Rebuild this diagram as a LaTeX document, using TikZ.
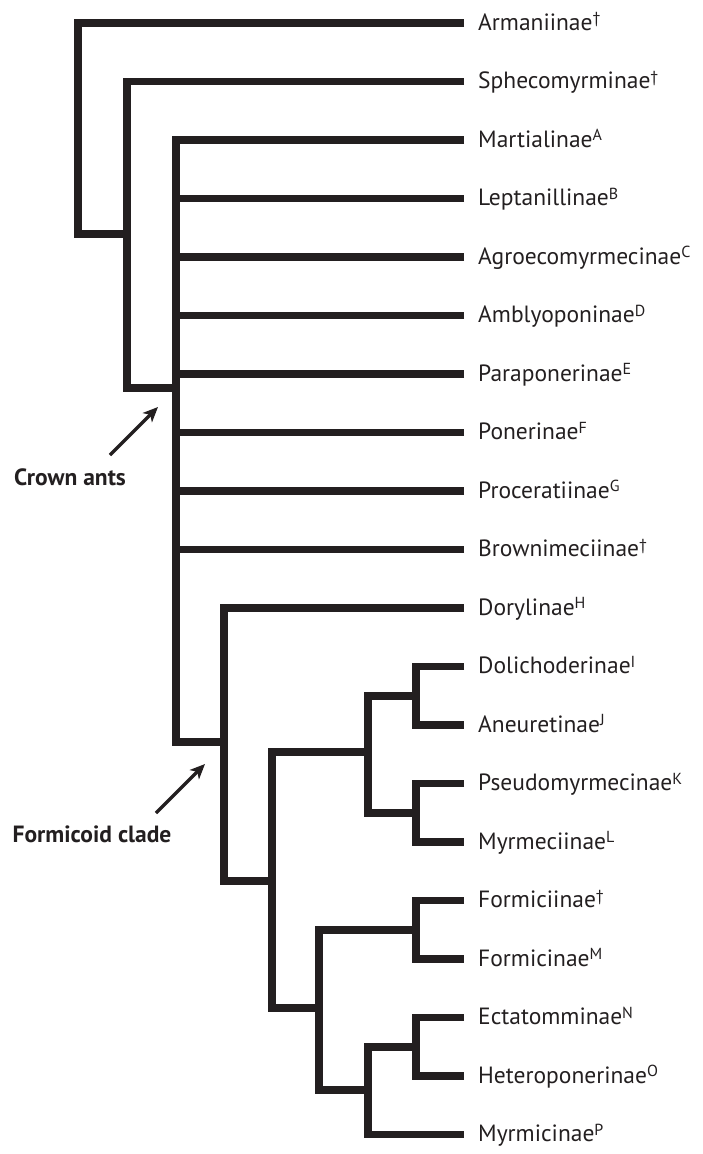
\documentclass[tikz,border=0pt]{standalone}
\usepackage{fontspec}
\setmainfont{PT Sans}
\usetikzlibrary{arrows.meta}
\definecolor{inkblack}{RGB}{35,31,32}
\newcommand{\supmark}[1]{\raisebox{6.5pt}{\fontsize{16}{18}\selectfont #1}}
\tikzset{
  branch/.style={draw=inkblack, line width=7.5pt, line join=miter},
  taxon/.style={anchor=west, inner xsep=14pt, inner ysep=0pt, text height=14pt, text depth=0pt,
    font=\fontsize{23.5}{28}\selectfont, text=inkblack},
  cladelabel/.style={inner sep=0pt, font=\bfseries\fontsize{23.5}{28}\selectfont, text=inkblack},
  pointer/.style={draw=inkblack, line width=3.5pt, -{Stealth[length=15pt,width=13pt,inset=4pt]}}
}
\begin{document}
\begin{tikzpicture}[x=1pt, y=-1pt]
  \useasboundingbox (0,0) rectangle (702,1154);

  % Taxa
  \node[taxon] (arm) at (464,23) {Armaniinae\supmark{\textdagger}};
  \node[taxon] (sph) at (464,81.5) {Sphecomyrminae\supmark{\textdagger}};
  \node[taxon] (mar) at (464,140) {Martialinae\supmark{A}};
  \node[taxon] (lep) at (464,198.5) {Leptanillinae\supmark{B}};
  \node[taxon] (agr) at (464,257) {Agroecomyrmecinae\supmark{C}};
  \node[taxon] (amb) at (464,315.5) {Amblyoponinae\supmark{D}};
  \node[taxon] (par) at (464,374) {Paraponerinae\supmark{E}};
  \node[taxon] (pon) at (464,432.5) {Ponerinae\supmark{F}};
  \node[taxon] (pro) at (464,491) {Proceratiinae\supmark{G}};
  \node[taxon] (bro) at (464,549.5) {Brownimeciinae\supmark{\textdagger}};
  \node[taxon] (dor) at (464,608) {Dorylinae\supmark{H}};
  \node[taxon] (dol) at (464,666.5) {Dolichoderinae\supmark{I}};
  \node[taxon] (ane) at (464,725) {Aneuretinae\supmark{J}};
  \node[taxon] (pse) at (464,783.5) {Pseudomyrmecinae\supmark{K}};
  \node[taxon] (myr) at (464,842) {Myrmeciinae\supmark{L}};
  \node[taxon] (fii) at (464,900.5) {Formiciinae\supmark{\textdagger}};
  \node[taxon] (fin) at (464,959) {Formicinae\supmark{M}};
  \node[taxon] (ect) at (464,1017.5) {Ectatomminae\supmark{N}};
  \node[taxon] (het) at (464,1076) {Heteroponerinae\supmark{O}};
  \node[taxon] (myc) at (464,1134.5) {Myrmicinae\supmark{P}};

  % Internal nodes
  \coordinate (root) at (78,234);
  \coordinate (sphcrown) at (127,234);
  \coordinate (crown) at (176,388);
  \coordinate (formicoid) at (224,742);
  \coordinate (fclade) at (272,881);
  \coordinate (dolpse) at (368,752);
  \coordinate (dolpair) at (416,695.75);
  \coordinate (psepair) at (416,812.75);
  \coordinate (formyr) at (319,1008);
  \coordinate (forpair) at (416,929.75);
  \coordinate (ectmyr) at (368,1090);
  \coordinate (ectpair) at (416,1046.75);

  % Branches
  \draw[branch] (arm.west) -| (root) -- (sphcrown);
  \draw[branch] (sph.west) -| (sphcrown) |- (crown);
  \draw[branch] (mar.west) -| (crown) |- (formicoid);
  \foreach \t in {lep,agr,amb,par,pon,pro,bro}
    \draw[branch] (\t.west) -| (crown);
  \draw[branch] (dor.west) -| (formicoid) |- (fclade);
  \draw[branch] (dolpse) -| (fclade) |- (formyr);
  \draw[branch] (dolpair) -| (dolpse) |- (psepair);
  \draw[branch] (dol.west) -| (dolpair) |- (ane.west);
  \draw[branch] (pse.west) -| (psepair) |- (myr.west);
  \draw[branch] (forpair) -| (formyr) |- (ectmyr);
  \draw[branch] (fii.west) -| (forpair) |- (fin.west);
  \draw[branch] (ectpair) -| (ectmyr) |- (myc.west);
  \draw[branch] (ect.west) -| (ectpair) |- (het.west);

  % Clade labels
  \node[cladelabel] (crownlbl) at (70,477) {Crown ants};
  \coordinate (crowntail) at (110,455);
  \coordinate (crowntip) at (158,407);
  \draw[pointer] (crowntail) -- (crowntip);

  \node[cladelabel] (formlbl) at (92,834) {Formicoid clade};
  \coordinate (formtail) at (156,813);
  \coordinate (formtip) at (205,764);
  \draw[pointer] (formtail) -- (formtip);
\end{tikzpicture}
\end{document}
